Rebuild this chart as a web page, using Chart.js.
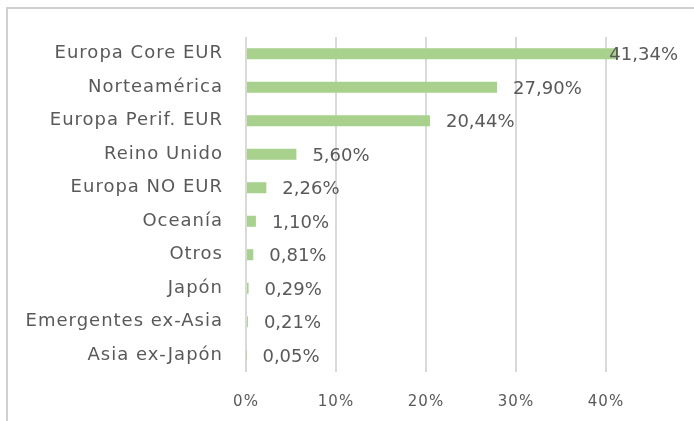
<!DOCTYPE html>
<html>
<head>
<meta charset="utf-8">
<script src="https://cdn.jsdelivr.net/npm/chart.js@4"></script>
<style>
  html, body { margin: 0; padding: 0; background: #ffffff; }
  #wrap { position: relative; width: 694px; height: 421px; overflow: hidden; }
  #frame { position: absolute; left: 6px; top: 7px; width: 700px; height: 420px;
           border-left: 2px solid #d0d0d0; border-top: 2px solid #d0d0d0; }
  canvas { position: absolute; left: 0; top: 0; }
</style>
</head>
<body>
<div id="wrap">
  <div id="frame"></div>
  <canvas id="c" width="694" height="421"></canvas>
</div>
<script>
const categories = ["Europa Core EUR", "Norteamérica", "Europa Perif. EUR", "Reino Unido", "Europa NO EUR", "Oceanía", "Otros", "Japón", "Emergentes ex-Asia", "Asia ex-Japón"];
const values = [41.34, 27.90, 20.44, 5.60, 2.26, 1.10, 0.81, 0.29, 0.21, 0.05];
const xTicks = [0, 10, 20, 30, 40];

const FONT = "DejaVu Sans";
const TXT = "#595959";
const fmt = v => v.toFixed(2).replace('.', ',') + '%';

const spacing = {
  id: 'spacing',
  beforeDraw(chart) { chart.ctx.letterSpacing = '1px'; }
};

const valueLabels = {
  id: 'valueLabels',
  afterDatasetsDraw(chart) {
    const ctx = chart.ctx;
    const meta = chart.getDatasetMeta(0);
    ctx.save();
    ctx.letterSpacing = '0px';
    ctx.font = '18px "' + FONT + '"';
    ctx.fillStyle = TXT;
    ctx.textBaseline = 'middle';
    ctx.textAlign = 'left';
    meta.data.forEach((bar, i) => {
      const t = fmt(values[i]);
      const w = ctx.measureText(t).width;
      const x = Math.min(bar.x + 16, 678 - w);
      ctx.fillText(t, x, bar.y + 2);
    });
    ctx.restore();
  }
};

new Chart(document.getElementById('c'), {
  type: 'bar',
  data: {
    labels: categories,
    datasets: [{
      data: values,
      backgroundColor: '#a9d18e',
      borderWidth: 0,
      barPercentage: 0.33,
      categoryPercentage: 1.0
    }]
  },
  options: {
    indexAxis: 'y',
    responsive: false,
    animation: false,
    devicePixelRatio: 1,
    layout: { padding: { top: 37, right: 43, bottom: 0, left: 0 } },
    plugins: { legend: { display: false }, tooltip: { enabled: false }, title: { display: false } },
    scales: {
      x: {
        min: 0, max: 45,
        afterBuildTicks: axis => { axis.ticks = xTicks.map(v => ({ value: v })); },
        afterFit: s => { s.height = 49; },
        grid: { color: '#d9d9d9', lineWidth: 2, drawTicks: false },
        border: { display: false },
        ticks: { color: TXT, padding: 21, font: { family: FONT, size: 15 }, callback: v => v + '%', maxRotation: 0 }
      },
      y: {
        afterFit: s => { s.width = 246; },
        grid: { display: false, drawTicks: false },
        border: { display: false },
        ticks: { color: TXT, padding: 23, font: { family: FONT, size: 18 } }
      }
    }
  },
  plugins: [spacing, valueLabels]
});
</script>
</body>
</html>
